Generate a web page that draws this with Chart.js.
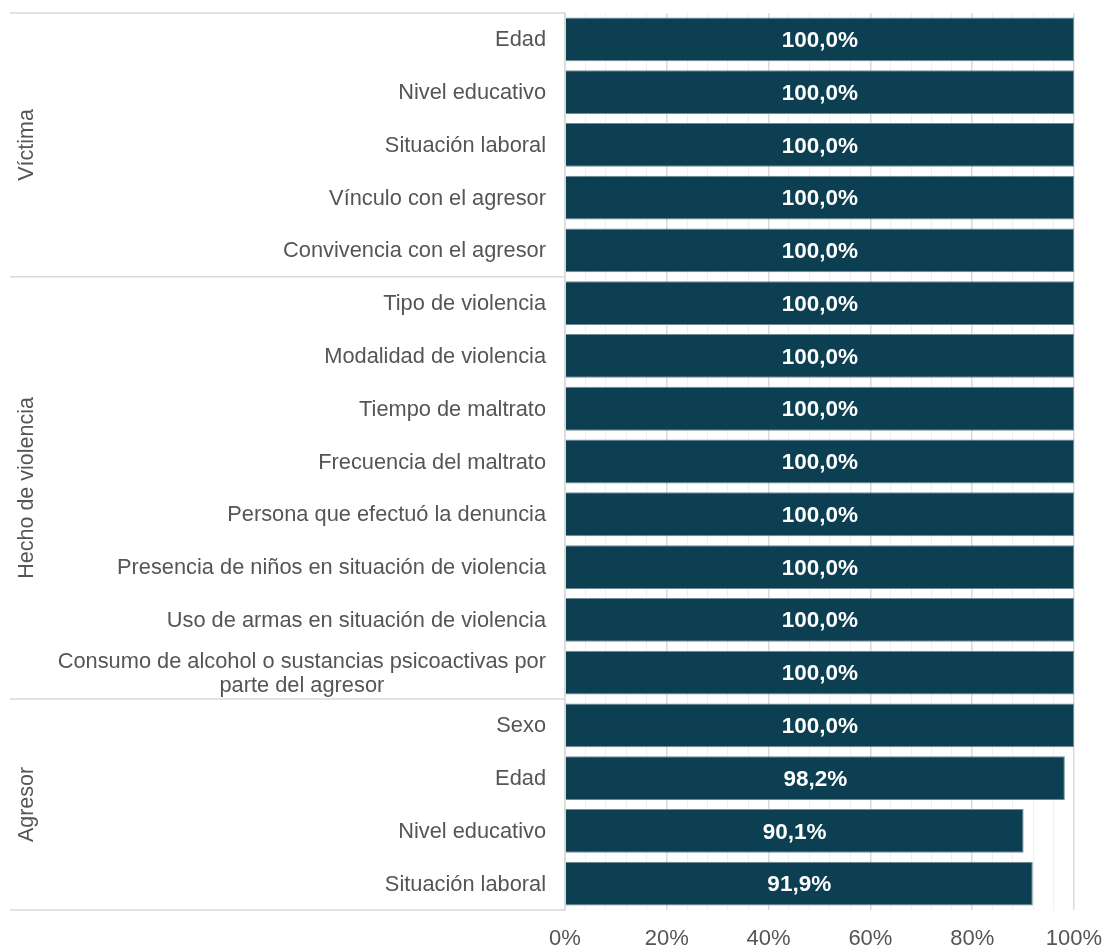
<!DOCTYPE html>
<html>
<head>
<meta charset="utf-8">
<script src="https://cdn.jsdelivr.net/npm/chart.js@4"></script>
<style>
  html,body{margin:0;padding:0;background:#fff;}
  #wrap{width:1105px;height:946px;position:relative;}
</style>
</head>
<body>
<div id="wrap"><canvas id="chart"></canvas></div>
<script>
// ====== dados ======
const categories = [
  "Edad", "Nivel educativo", "Situación laboral", "Vínculo con el agresor", "Convivencia con el agresor",
  "Tipo de violencia", "Modalidad de violencia", "Tiempo de maltrato", "Frecuencia del maltrato",
  "Persona que efectuó la denuncia", "Presencia de niños en situación de violencia",
  "Uso de armas en situación de violencia",
  ["Consumo de alcohol o sustancias psicoactivas por", "parte del agresor"],
  "Sexo", "Edad", "Nivel educativo", "Situación laboral"
];
const values = [100, 100, 100, 100, 100, 100, 100, 100, 100, 100, 100, 100, 100, 100, 98.2, 90.1, 91.9];
const groupNames = ["Víctima", "Hecho de violencia", "Agresor"];
const groupSizes = [5, 8, 4];
const xTicks = [0, 20, 40, 60, 80, 100];

const FONT = "'Liberation Sans', Arial, Helvetica, sans-serif";
const textGray = '#555555';
const lineGray = '#d9d9d9';
const barColor = '#0b3f51';
const pct = v => v.toFixed(1).replace('.', ',') + '%';

// ====== rótulos de categoria + grupos ======
const sidePlugin = {
  id: 'side',
  afterDraw(chart) {
    const {ctx, chartArea, scales} = chart;
    const y = scales.y;
    const left = 10;
    ctx.save();
    // rótulos das categorias
    ctx.font = `21.8px ${FONT}`;
    ctx.fillStyle = textGray;
    ctx.textAlign = 'center';
    ctx.textBaseline = 'middle';
    const rightX = chartArea.left - 19;
    categories.forEach((lab, i) => {
      const lines = Array.isArray(lab) ? lab : [lab];
      const maxW = Math.max(...lines.map(l => ctx.measureText(l).width));
      const cy = y.getPixelForValue(i) + 1;
      const lh = 24;
      lines.forEach((l, k) => {
        ctx.fillText(l, rightX - maxW / 2, cy + (k - (lines.length - 1) / 2) * lh);
      });
    });
    // separadores e nomes de grupo
    ctx.strokeStyle = lineGray;
    ctx.lineWidth = 1.5;
    let start = 0;
    const edge = idx => y.getPixelForValue(idx - 0.5);
    const hline = py => { ctx.beginPath(); ctx.moveTo(left, py); ctx.lineTo(chartArea.left, py); ctx.stroke(); };
    hline(edge(0));
    groupSizes.forEach((n, g) => {
      const top = edge(start), bot = edge(start + n);
      hline(bot);
      ctx.save();
      ctx.translate(27, (top + bot) / 2);
      ctx.rotate(-Math.PI / 2);
      ctx.fillStyle = textGray;
      ctx.textAlign = 'center';
      ctx.textBaseline = 'middle';
      ctx.font = `21.5px ${FONT}`;
      ctx.fillText(groupNames[g], 0, 0);
      ctx.restore();
      start += n;
    });
    ctx.restore();
  }
};

// ====== valores dentro das barras ======
const valuePlugin = {
  id: 'vals',
  afterDatasetsDraw(chart) {
    const {ctx} = chart;
    const meta = chart.getDatasetMeta(0);
    ctx.save();
    ctx.font = `bold 22.5px ${FONT}`;
    ctx.fillStyle = '#ffffff';
    ctx.textAlign = 'center';
    ctx.textBaseline = 'middle';
    meta.data.forEach((bar, i) => {
      ctx.fillText(pct(values[i]), (bar.x + bar.base) / 2, bar.y + 1.5);
    });
    ctx.restore();
  }
};

new Chart(document.getElementById('chart'), {
  type: 'bar',
  data: {
    labels: categories,
    datasets: [{
      data: values,
      backgroundColor: barColor,
      borderColor: '#6f8b96',
      borderWidth: 1,
      barPercentage: 0.83,
      categoryPercentage: 1
    }]
  },
  options: {
    indexAxis: 'y',
    responsive: true,
    maintainAspectRatio: false,
    animation: false,
    layout: { padding: { left: 0, right: 31, top: 13, bottom: 0 } },
    plugins: { legend: { display: false }, tooltip: { enabled: false } },
    scales: {
      x: {
        min: 0, max: 100,
        ticks: {
          stepSize: 4,
          autoSkip: false,
          maxRotation: 0,
          padding: 16,
          color: textGray,
          font: { family: FONT, size: 22 },
          callback: v => xTicks.includes(v) ? v + '%' : ''
        },
        grid: {
          drawTicks: false,
          color: c => (c.tick && c.tick.value % 20 === 0) ? lineGray : '#f0f0f0',
          lineWidth: c => (c.tick && c.tick.value % 20 === 0) ? 1.5 : 1
        },
        border: { display: false },
        afterFit: s => { s.height = 36; s.paddingLeft = 0; s.paddingRight = 0; }
      },
      y: {
        ticks: { display: false },
        grid: { display: false },
        border: { display: true, color: lineGray, width: 1.5 },
        afterFit: s => { s.width = 565; }
      }
    }
  },
  plugins: [sidePlugin, valuePlugin]
});
</script>
</body>
</html>
